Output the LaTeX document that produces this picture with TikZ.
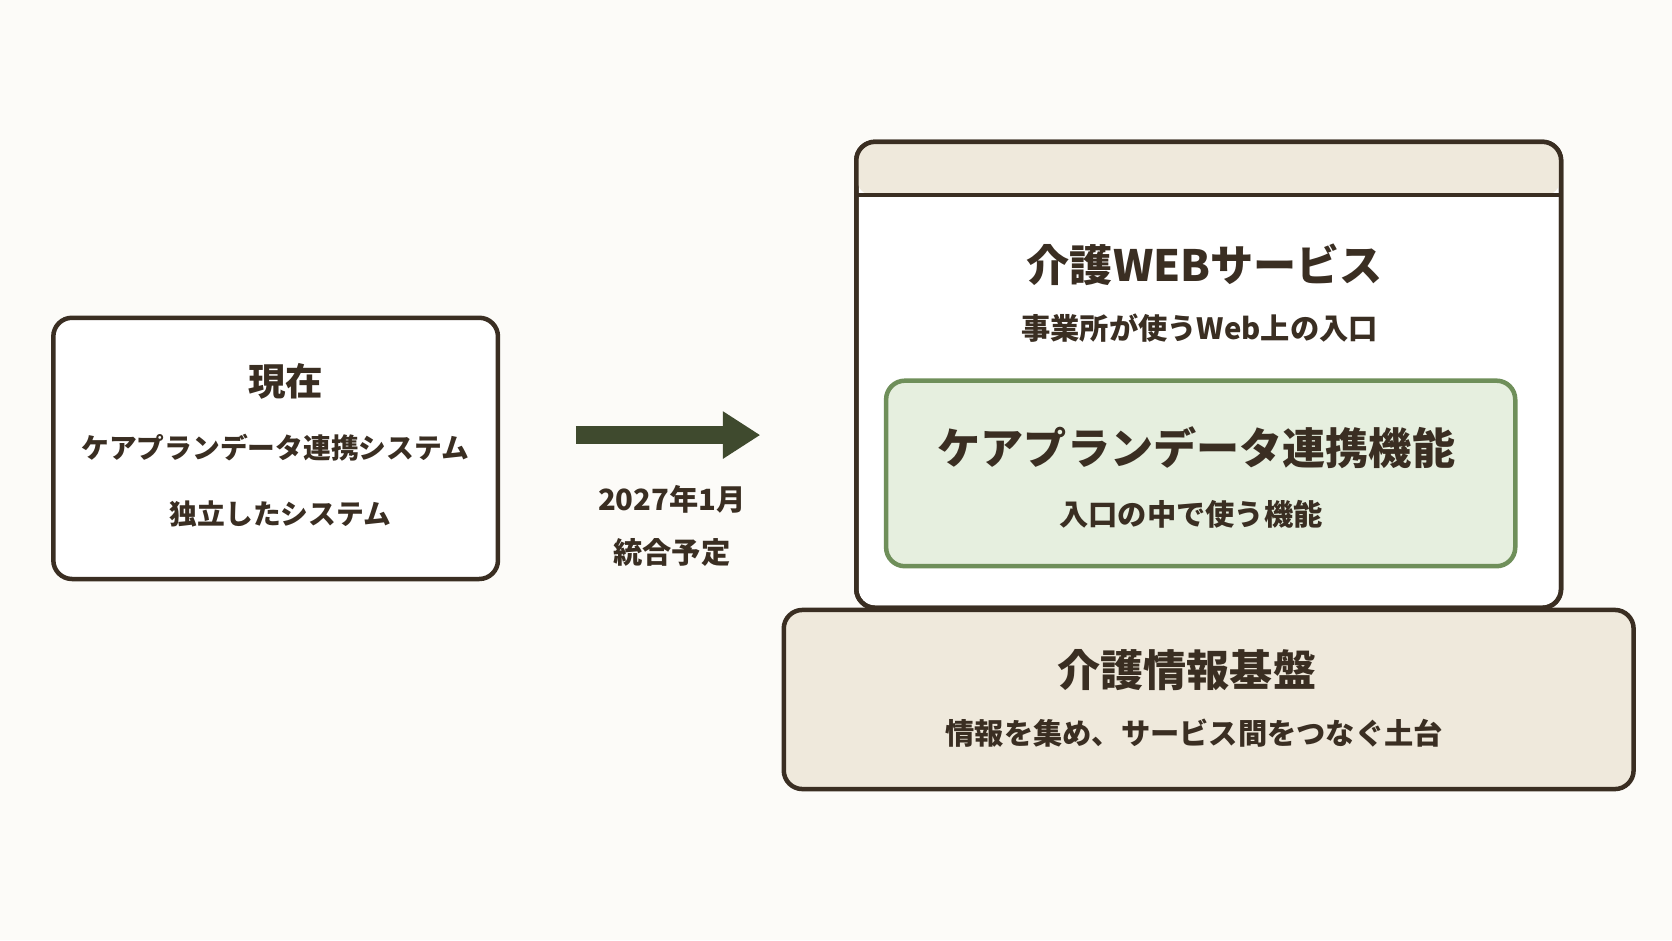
\documentclass[tikz,border=0pt]{standalone}
\usepackage{fontspec}
\setmainfont{Noto Sans CJK JP}
\usetikzlibrary{arrows.meta}
\definecolor{bgpaper}{HTML}{FCFBF8}
\definecolor{inkbrown}{HTML}{3A2E22}
\definecolor{beige}{HTML}{EFE9DC}
\definecolor{leaf}{HTML}{E6EFDF}
\definecolor{leafline}{HTML}{6F8F5A}
\definecolor{olive}{HTML}{3F4A2E}
\begin{document}
\begin{tikzpicture}[x=0.01cm,y=-0.01cm,
  box/.style={draw=inkbrown, line width=1.2pt, rounded corners=5pt},
  big/.style={text=inkbrown, font=\fontsize{11.5}{13}\selectfont\bfseries},
  mid/.style={text=inkbrown, font=\fontsize{10}{12}\selectfont\bfseries},
  small/.style={text=inkbrown, font=\fontsize{7.8}{9}\selectfont\bfseries},
  tiny/.style={text=inkbrown, font=\fontsize{7.4}{9}\selectfont\bfseries}]

	% ---- background

	\fill[bgpaper] (0,0) rectangle (1568,882);
	\useasboundingbox (0,0) rectangle (1568,882);

	% ---- current system

	\draw[box, fill=white] (50,298) rectangle (467,543);
	\node[mid] (now) at (268,358) {現在};
	\node[tiny] (nowname) at (258,420) {ケアプランデータ連携システム};
	\node[tiny] (nowdesc) at (263,482) {独立したシステム};

	% ---- arrow

	\coordinate (arrS) at (540,408);
	\coordinate (arrE) at (713,408);
	\draw[olive, line width=5pt, -{Triangle[length=10pt,width=12pt]}] (arrS) -- (arrE);
	\node[small] (date) at (630,468) {2027年1月};
	\node[small] (plan) at (630,518) {統合予定};

	% ---- web service

	\draw[box, fill=white] (803,133) rectangle (1464,570);
	\fill[beige, rounded corners=4pt] (804,134) rectangle (1463,183);
	\draw[inkbrown, line width=1.2pt] (803,183) -- (1464,183);
	\draw[box] (803,133) rectangle (1464,570);
	\node[big] (web) at (1130,248) {介護WEBサービス};
	\node[small] (webdesc) at (1125,308) {事業所が使うWeb上の入口};

	% ---- green function

	\draw[box, draw=leafline, fill=leaf] (831,357) rectangle (1421,531);
	\node[big] (func) at (1122,420) {ケアプランデータ連携機能};
	\node[small] (funcdesc) at (1117,482) {入口の中で使う機能};

	% ---- base

	\draw[box, fill=beige] (735,572) rectangle (1532,740);
	\node[big] (base) at (1113,628) {介護情報基盤};
	\node[small] (basedesc) at (1120,688) {情報を集め、サービス間をつなぐ土台};

\end{tikzpicture}
\end{document}
